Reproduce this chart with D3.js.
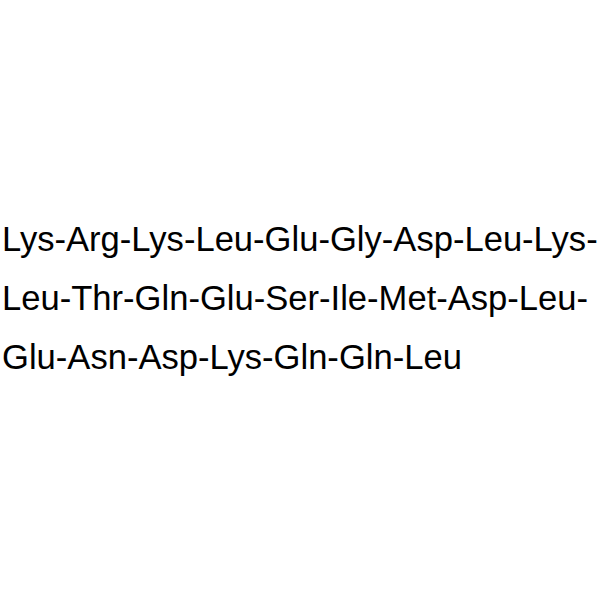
<!DOCTYPE html>
<html lang="en">
<head>
    <meta charset="UTF-8">
    <title>Peptide sequence</title>
    <script src="https://d3js.org/d3.v7.min.js"></script>
    <style type="text/css">
        body { margin: 0; background: #fff; }
    </style>
</head>
    <body>
        <script type="text/javascript">

        // residues per printed line
        var lines = [
            ["Lys", "Arg", "Lys", "Leu", "Glu", "Gly", "Asp", "Leu", "Lys"],
            ["Leu", "Thr", "Gln", "Glu", "Ser", "Ile", "Met", "Asp", "Leu"],
            ["Glu", "Asn", "Asp", "Lys", "Gln", "Gln", "Leu"]
        ];

        var w = 600;
        var h = 600;

        var svg = d3.select("body")
            .append("svg")
            .attr("width", w)
            .attr("height", h);

        // one row per line
        var yScale = d3.scaleLinear()
            .domain([0, 2])
            .range([251, 369]);

        svg.selectAll("text")
            .data(lines)
            .enter()
            .append("text")
            .text(function (d, i) {
                // hyphen at end of every line except the last
                return d.join("-") + (i < lines.length - 1 ? "-" : "");
            })
            .attr("x", 2)
            .attr("y", function (d, i) {
                return yScale(i);
            })
            .attr("font-family", "'Liberation Sans', Arial, sans-serif")
            .attr("font-size", "34.6px")
            .attr("fill", "#000");

        </script>
    </body>
</html>
